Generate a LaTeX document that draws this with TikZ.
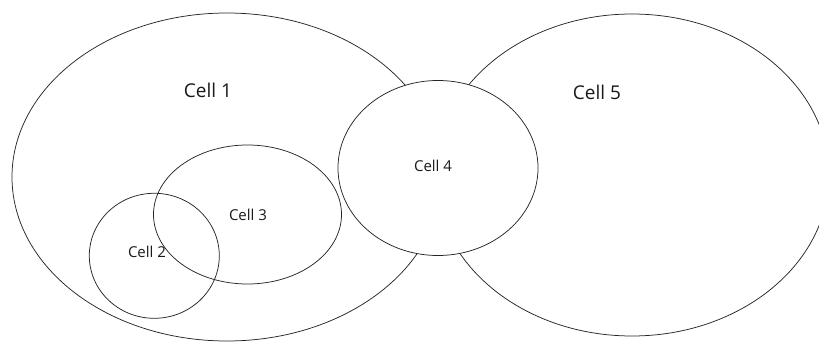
\documentclass[tikz,border=0pt]{standalone}
\usepackage{fontspec}
\setmainfont{Open Sans}
\usetikzlibrary{shapes.geometric}
\begin{document}
\begin{tikzpicture}[x=1pt,y=-1pt,
  cell/.style={ellipse,draw=black!85,line width=0.75pt,inner sep=0pt},
  biglabel/.style={font=\fontsize{19}{22}\selectfont,text=black!90},
  smalllabel/.style={font=\fontsize{15}{18}\selectfont,text=black!90}]
\useasboundingbox (0,0) rectangle (819,342);
\clip (0,0) rectangle (819,342);
\node[cell,minimum width=430pt,minimum height=328pt] (c1) at (227,177) {};
\node[cell,minimum width=394pt,minimum height=322pt] (c5) at (632,175) {};
\node[cell,fill=white,minimum width=200pt,minimum height=175pt] (c4) at (438,168) {};
\node[cell,minimum width=188pt,minimum height=139pt] (c3) at (247.5,214.5) {};
\node[cell,minimum width=130pt,minimum height=125pt] (c2) at (154.3,255.8) {};
\node[biglabel] (t1) at (208,90) {Cell 1};
\node[biglabel] (t5) at (597,92) {Cell 5};
\node[smalllabel] (t4) at (433,166) {Cell 4};
\node[smalllabel] (t3) at (248,215) {Cell 3};
\node[smalllabel] (t2) at (147,252) {Cell 2};
\end{tikzpicture}
\end{document}
